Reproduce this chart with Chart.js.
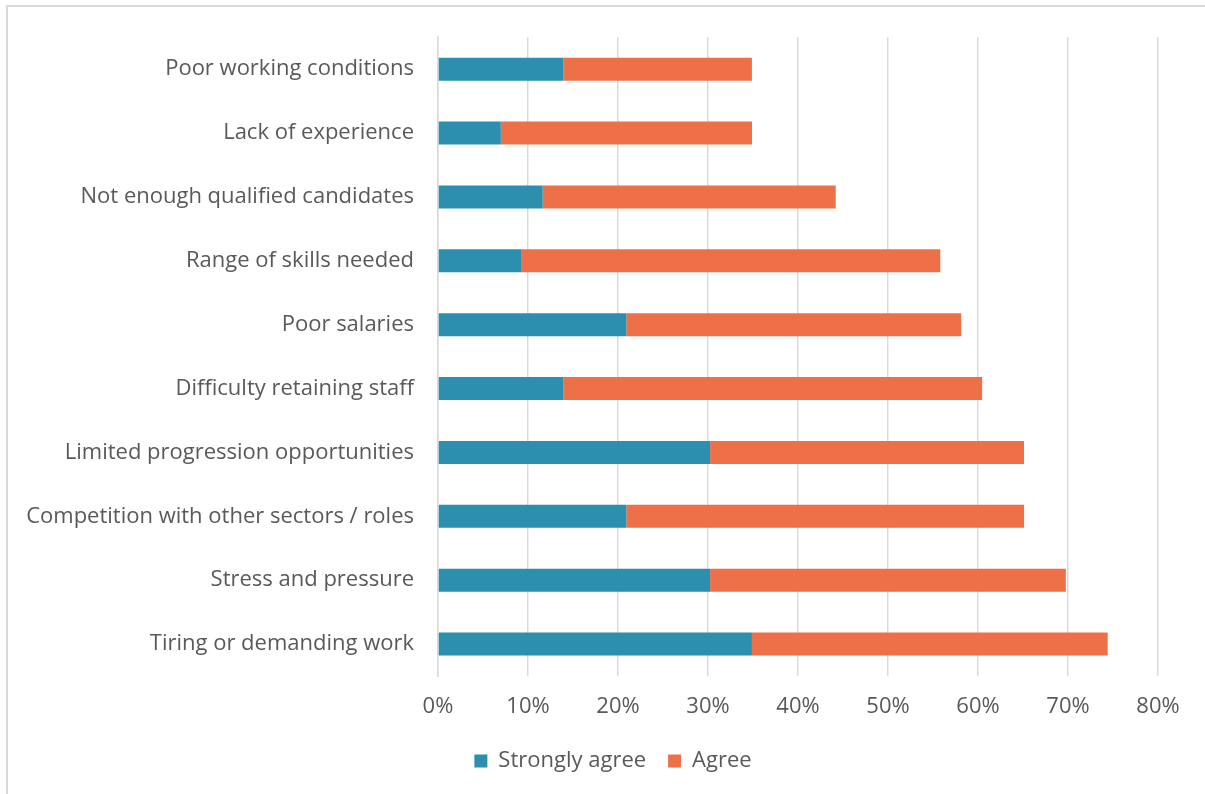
<!DOCTYPE html>
<html>
<head>
<meta charset="utf-8">
<script src="https://cdn.jsdelivr.net/npm/chart.js@4/dist/chart.umd.min.js"></script>
<style>
  html, body { margin: 0; padding: 0; background: #fff; }
  #wrap { position: relative; width: 1205px; height: 794px; }
</style>
</head>
<body>
<div id="wrap"><canvas id="c" width="1205" height="794"></canvas></div>
<script>
const categories = [
  "Poor working conditions",
  "Lack of experience",
  "Not enough qualified candidates",
  "Range of skills needed",
  "Poor salaries",
  "Difficulty retaining staff",
  "Limited progression opportunities",
  "Competition with other sectors / roles",
  "Stress and pressure",
  "Tiring or demanding work"
];
const stronglyAgree = [13.95, 6.98, 11.63, 9.30, 20.93, 13.95, 30.23, 20.93, 30.23, 34.88];
const agree = [20.93, 27.91, 32.56, 46.51, 37.21, 46.51, 34.88, 44.19, 39.53, 39.53];
const seriesNames = ["Strongly agree", "Agree"];
const xTicks = [0, 10, 20, 30, 40, 50, 60, 70, 80];

const FONT = "'Open Sans', sans-serif";
const TEXT = "#595959";

const frame = {
  id: 'frame',
  beforeDraw(chart) {
    const ctx = chart.ctx;
    ctx.save();
    ctx.fillStyle = '#fff';
    ctx.fillRect(0, 0, chart.width, chart.height);
    ctx.strokeStyle = '#d9d9d9';
    ctx.lineWidth = 2;
    ctx.strokeRect(7, 6, chart.width + 20, chart.height + 20);
    ctx.restore();
  }
};

// nudge the legend block to match the reference placement
const legendShift = {
  id: 'legendShift',
  afterLayout(chart) {
    const lg = chart.legend;
    if (!lg) return;
    lg.left += 30; lg.right += 30;
    lg.top -= 12; lg.bottom -= 12;
  }
};

new Chart(document.getElementById('c'), {
  type: 'bar',
  data: {
    labels: categories,
    datasets: [
      { label: seriesNames[0], data: stronglyAgree, backgroundColor: '#2b8fad', borderWidth: 0,
        barPercentage: 0.72, categoryPercentage: 0.5 },
      { label: seriesNames[1], data: agree, backgroundColor: '#ee7049', borderWidth: 0,
        barPercentage: 0.72, categoryPercentage: 0.5 }
    ]
  },
  options: {
    indexAxis: 'y',
    responsive: false,
    animation: false,
    devicePixelRatio: 1,
    layout: { padding: { top: 35, right: 47, left: 8, bottom: 0 } },
    scales: {
      x: {
        stacked: true,
        min: 0, max: 80,
        afterBuildTicks(scale) { scale.ticks = xTicks.map(v => ({ value: v })); },
        afterFit(scale) { scale.height = 64; },
        ticks: {
          callback: v => v + '%',
          color: TEXT,
          font: { family: FONT, size: 22 },
          padding: 18
        },
        grid: { color: '#d9d9d9', lineWidth: 1.5, drawTicks: false },
        border: { display: false }
      },
      y: {
        stacked: true,
        afterFit(scale) { scale.width = 430; },
        ticks: {
          color: TEXT,
          font: { family: FONT, size: 22 },
          padding: 24
        },
        grid: { display: false, drawTicks: false },
        border: { display: true, color: '#d9d9d9', width: 1.5 }
      }
    },
    plugins: {
      legend: {
        position: 'bottom',
        labels: {
          color: TEXT,
          font: { family: FONT, size: 22 },
          boxWidth: 13, boxHeight: 13,
          padding: 22
        }
      },
      tooltip: { enabled: false }
    }
  },
  plugins: [frame, legendShift]
});
</script>
</body>
</html>
